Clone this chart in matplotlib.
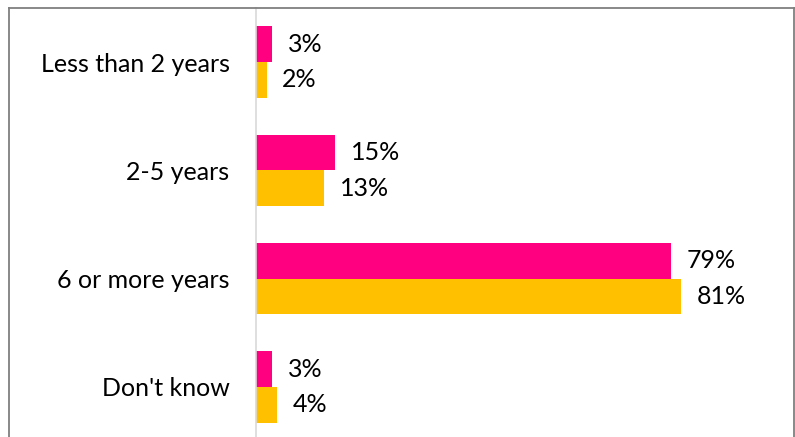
import matplotlib
matplotlib.use("Agg")
from matplotlib import pyplot as plt
from matplotlib.lines import Line2D

categories = ["Less than 2 years", "2-5 years", "6 or more years", "Don't know"]
survey_1 = [3, 15, 79, 3]
survey_2 = [2, 13, 81, 4]

plt.rcParams['font.family'] = ['Lato', 'DejaVu Sans']

fig = plt.figure(figsize=(7.95, 4.37), dpi=100)
W, H = 795, 437
ax = fig.add_axes([256 / W, 0, (W - 256) / W, (H - 8) / H])

bar_h = 0.33
fs = 18
ys = range(len(categories))
ax.barh([y - bar_h / 2 for y in ys], survey_1, height=bar_h, color="#FF0080")
ax.barh([y + bar_h / 2 for y in ys], survey_2, height=bar_h, color="#FFC000")

for y, v in zip(ys, survey_1):
    ax.text(v + 3, y - bar_h / 2, f"{v}%", va="center", ha="left", fontsize=fs)
for y, v in zip(ys, survey_2):
    ax.text(v + 3, y + bar_h / 2, f"{v}%", va="center", ha="left", fontsize=fs)

ax.set_xlim(0, (W - 256) / 5.25)
ax.set_ylim((H - 62) / 108.3, -0.5)
ax.set_yticks(list(ys))
ax.set_yticklabels(categories, fontsize=fs)
ax.tick_params(axis="y", length=0, pad=19)
ax.set_xticks([])
for side in ["top", "right", "bottom"]:
    ax.spines[side].set_visible(False)
ax.spines["left"].set_color("#D9D9D9")
ax.spines["left"].set_linewidth(1.2)

# outer frame of the chart area
frame = dict(color="#7F7F7F", linewidth=1.3, transform=fig.transFigure)
fig.add_artist(Line2D([9 / W, 9 / W], [0, 1 - 8 / H], **frame))
fig.add_artist(Line2D([9 / W, 1], [1 - 8 / H, 1 - 8 / H], **frame))
fig.add_artist(Line2D([794 / W, 794 / W], [0, 1 - 8 / H], **frame))

fig.savefig("out.png", dpi=100)
